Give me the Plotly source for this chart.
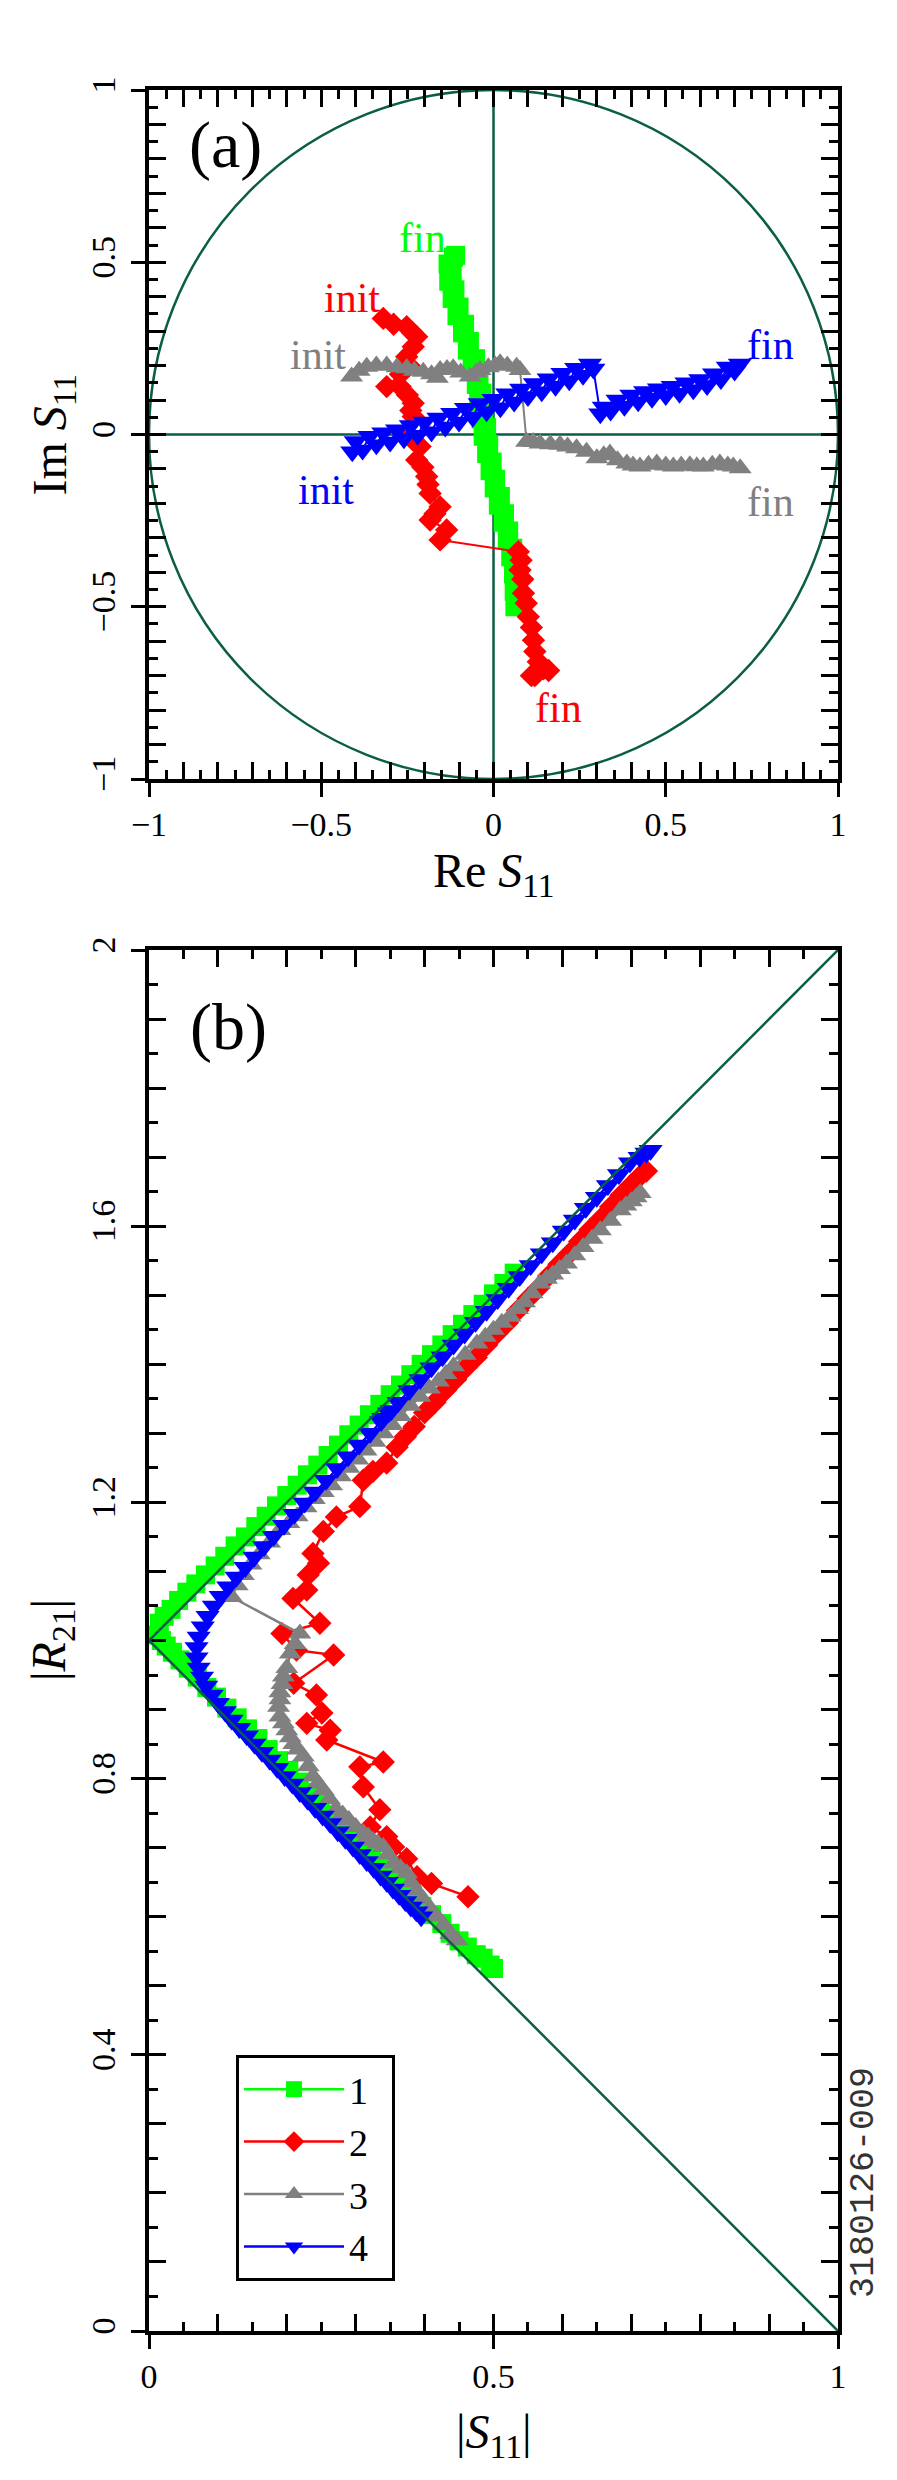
import plotly.graph_objects as go

SERIF = "Liberation Serif"
DARK_GREEN = "#0b5e46"

# ---- panel (a): Re S11 / Im S11 trajectories
re_1 = [0.062, 0.072, 0.060, 0.070, 0.058, 0.066, 0.050, 0.056, 0.040, 0.044, 0.028, 0.032,
        0.014, 0.020, 0.002, 0.006, -0.010, -0.004, -0.020, -0.014, -0.030, -0.020, -0.036,
        -0.028, -0.043, -0.034, -0.050, -0.042, -0.062, -0.052, -0.076, -0.070, -0.090,
        -0.084, -0.106, -0.100, -0.120, -0.112, -0.130, -0.120, -0.132, -0.116, -0.110]
im_1 = [-0.500, -0.480, -0.455, -0.430, -0.405, -0.380, -0.355, -0.330, -0.305, -0.280,
        -0.255, -0.230, -0.205, -0.180, -0.155, -0.130, -0.105, -0.080, -0.055, -0.030,
        -0.005, 0.020, 0.045, 0.070, 0.095, 0.120, 0.145, 0.170, 0.195, 0.220, 0.245, 0.270,
        0.295, 0.320, 0.345, 0.370, 0.395, 0.420, 0.445, 0.470, 0.495, 0.515, 0.520]

re_2 = [-0.320, -0.290, -0.252, -0.235, -0.223, -0.233, -0.252, -0.245, -0.270, -0.310,
        -0.271, -0.250, -0.233, -0.240, -0.233, -0.252, -0.235, -0.213, -0.223, -0.205,
        -0.194, -0.190, -0.184, -0.155, -0.170, -0.184, -0.136, -0.155,
        0.072, 0.080, 0.077, 0.085, 0.087, 0.095, 0.101, 0.110, 0.116, 0.120, 0.130, 0.145,
        0.160, 0.120, 0.110]
im_2 = [0.337, 0.320, 0.313, 0.295, 0.284, 0.255, 0.226, 0.200, 0.175, 0.139, 0.139, 0.115,
        0.091, 0.070, 0.052, 0.003, -0.015, -0.035, -0.074, -0.095, -0.122, -0.145, -0.171,
        -0.210, -0.230, -0.248, -0.277, -0.306,
        -0.340, -0.365, -0.393, -0.420, -0.461, -0.490, -0.529, -0.560, -0.597, -0.630,
        -0.660, -0.680, -0.685, -0.700, -0.700]

re_3 = [-0.412, -0.390, -0.368, -0.340, -0.310, -0.280, -0.252, -0.230, -0.204, -0.180,
        -0.163, -0.155, -0.135, -0.117, -0.095, -0.068, -0.050, -0.039, -0.015, 0.005, 0.019,
        0.040, 0.067, 0.077,
        0.096, 0.115, 0.135, 0.165, 0.193, 0.215, 0.241, 0.270, 0.300, 0.320, 0.338, 0.360,
        0.387, 0.405, 0.425, 0.450, 0.474, 0.500, 0.522, 0.545, 0.570, 0.590, 0.609, 0.635,
        0.657, 0.680, 0.696, 0.716]
im_3 = [0.168, 0.185, 0.197, 0.200, 0.200, 0.195, 0.192, 0.185, 0.182, 0.175, 0.165, 0.187,
        0.190, 0.192, 0.180, 0.168, 0.180, 0.187, 0.195, 0.200, 0.207, 0.200, 0.197, 0.187,
        -0.021, -0.022, -0.026, -0.028, -0.030, -0.035, -0.040, -0.050, -0.069, -0.060,
        -0.055, -0.075, -0.084, -0.090, -0.093, -0.088, -0.084, -0.090, -0.093, -0.090,
        -0.089, -0.092, -0.093, -0.088, -0.084, -0.090, -0.093, -0.098]

re_4 = [-0.410, -0.400, -0.380, -0.360, -0.340, -0.320, -0.300, -0.280, -0.260, -0.240,
        -0.220, -0.200, -0.180, -0.160, -0.140, -0.120, -0.100, -0.080, -0.060, -0.040,
        -0.020, 0.0, 0.020, 0.040, 0.060, 0.080, 0.100, 0.120, 0.140, 0.160, 0.180, 0.200,
        0.220, 0.240, 0.260, 0.280, 0.290,
        0.310, 0.320, 0.340, 0.360, 0.380, 0.400, 0.420, 0.440, 0.460, 0.480, 0.500, 0.520,
        0.540, 0.560, 0.580, 0.600, 0.620, 0.640, 0.660, 0.680, 0.700, 0.715]
im_4 = [-0.050, -0.020, -0.045, -0.005, -0.030, 0.005, -0.022, 0.014, -0.012, 0.026, -0.002,
        0.036, 0.008, 0.048, 0.022, 0.062, 0.036, 0.076, 0.050, 0.090, 0.066, 0.102, 0.078,
        0.118, 0.094, 0.132, 0.110, 0.148, 0.124, 0.162, 0.140, 0.178, 0.156, 0.192, 0.172,
        0.205, 0.190,
        0.060, 0.080, 0.068, 0.100, 0.082, 0.115, 0.095, 0.125, 0.105, 0.133, 0.113, 0.140,
        0.120, 0.150, 0.130, 0.160, 0.142, 0.176, 0.160, 0.196, 0.184, 0.205]

# ---- panel (b): |S11| vs |R21|
s_1 = [0.500, 0.495, 0.485, 0.475, 0.462, 0.450, 0.437, 0.425, 0.410, 0.396, 0.382, 0.368,
       0.353, 0.338, 0.323, 0.308, 0.293, 0.278, 0.263, 0.248, 0.233, 0.218, 0.203, 0.188,
       0.173, 0.158, 0.143, 0.128, 0.113, 0.098, 0.084, 0.070, 0.057, 0.045, 0.034, 0.025,
       0.018, 0.013,
       0.015, 0.022, 0.032, 0.043, 0.055, 0.068, 0.082, 0.096, 0.110, 0.125, 0.140, 0.155,
       0.170, 0.185, 0.200, 0.215, 0.230, 0.245, 0.260, 0.275, 0.290, 0.305, 0.320, 0.335,
       0.350, 0.365, 0.380, 0.395, 0.410, 0.425, 0.440, 0.455, 0.470, 0.485, 0.500, 0.515,
       0.530]
r_1 = [0.525, 0.530, 0.540, 0.545, 0.556, 0.565, 0.576, 0.590, 0.603, 0.615, 0.630, 0.645,
       0.660, 0.672, 0.688, 0.705, 0.718, 0.735, 0.748, 0.765, 0.780, 0.795, 0.812, 0.826,
       0.842, 0.858, 0.872, 0.888, 0.902, 0.918, 0.932, 0.947, 0.960, 0.972, 0.983, 0.992,
       1.000, 1.008,
       1.025, 1.035, 1.045, 1.058, 1.070, 1.082, 1.095, 1.108, 1.122, 1.137, 1.150, 1.165,
       1.180, 1.195, 1.210, 1.225, 1.240, 1.254, 1.268, 1.283, 1.298, 1.312, 1.327, 1.342,
       1.356, 1.370, 1.385, 1.400, 1.414, 1.428, 1.443, 1.458, 1.472, 1.487, 1.502, 1.517,
       1.532]

s_2 = [0.463, 0.410, 0.389, 0.374, 0.355, 0.345, 0.321, 0.335, 0.311, 0.306, 0.340, 0.258,
       0.263, 0.229, 0.251, 0.243, 0.210, 0.268, 0.214, 0.193, 0.248, 0.209, 0.229, 0.231,
       0.246, 0.238, 0.253, 0.272, 0.306, 0.311, 0.325, 0.345, 0.360, 0.372, 0.385, 0.400,
       0.415, 0.430, 0.445, 0.460, 0.475, 0.490, 0.505, 0.520, 0.535, 0.550, 0.565, 0.580,
       0.595, 0.610, 0.625, 0.640, 0.655, 0.670, 0.685, 0.700, 0.712, 0.722]
r_2 = [0.629, 0.648, 0.658, 0.684, 0.701, 0.716, 0.730, 0.755, 0.788, 0.817, 0.824, 0.856,
       0.870, 0.880, 0.895, 0.921, 0.938, 0.979, 0.986, 1.010, 1.025, 1.061, 1.073, 1.095,
       1.112, 1.126, 1.158, 1.179, 1.194, 1.232, 1.245, 1.257, 1.280, 1.295, 1.310, 1.330,
       1.345, 1.362, 1.378, 1.395, 1.410, 1.428, 1.445, 1.460, 1.478, 1.495, 1.510, 1.528,
       1.545, 1.560, 1.578, 1.595, 1.610, 1.628, 1.645, 1.660, 1.672, 1.680]

s_3 = [0.447, 0.438, 0.428, 0.418, 0.408, 0.398, 0.388, 0.380, 0.374, 0.365, 0.355, 0.347,
       0.340, 0.332, 0.325, 0.318, 0.311, 0.300, 0.290, 0.281, 0.272, 0.262, 0.253, 0.245,
       0.238, 0.231, 0.224, 0.216, 0.210, 0.205, 0.200, 0.195, 0.190, 0.188, 0.190, 0.190,
       0.193, 0.195, 0.200, 0.205, 0.212, 0.219,
       0.120, 0.128, 0.137, 0.148, 0.160, 0.175, 0.190, 0.203, 0.215, 0.228, 0.240, 0.253,
       0.265, 0.278, 0.290, 0.303, 0.315, 0.328, 0.340, 0.353, 0.365, 0.379, 0.393, 0.407,
       0.420, 0.431, 0.442, 0.459, 0.476, 0.488, 0.500, 0.512, 0.524, 0.535, 0.545, 0.556,
       0.567, 0.577, 0.586, 0.596, 0.606, 0.618, 0.630, 0.643, 0.655, 0.670, 0.684, 0.692,
       0.700, 0.707, 0.713]
r_3 = [0.566, 0.575, 0.588, 0.600, 0.612, 0.625, 0.638, 0.650, 0.663, 0.670, 0.677, 0.690,
       0.701, 0.706, 0.710, 0.716, 0.721, 0.730, 0.740, 0.748, 0.755, 0.770, 0.783, 0.793,
       0.803, 0.818, 0.832, 0.842, 0.850, 0.860, 0.870, 0.880, 0.890, 0.904, 0.915, 0.925,
       0.937, 0.948, 0.960, 0.981, 0.995, 1.010,
       1.063, 1.080, 1.095, 1.110, 1.125, 1.142, 1.160, 1.170, 1.180, 1.193, 1.205, 1.215,
       1.225, 1.238, 1.250, 1.262, 1.275, 1.288, 1.300, 1.312, 1.325, 1.340, 1.353, 1.365,
       1.375, 1.386, 1.397, 1.414, 1.430, 1.440, 1.450, 1.460, 1.469, 1.480, 1.490, 1.503,
       1.517, 1.524, 1.530, 1.538, 1.546, 1.558, 1.570, 1.582, 1.594, 1.608, 1.623, 1.630,
       1.636, 1.642, 1.648]

s_4 = [0.395, 0.388, 0.380, 0.372, 0.363, 0.354, 0.345, 0.336, 0.326, 0.316, 0.306, 0.296,
       0.285, 0.274, 0.263, 0.252, 0.241, 0.230, 0.219, 0.208, 0.197, 0.186, 0.175, 0.164,
       0.153, 0.142, 0.131, 0.120, 0.110, 0.100, 0.091, 0.083, 0.077, 0.072, 0.069,
       0.069, 0.072, 0.078, 0.085, 0.094, 0.104, 0.115, 0.127, 0.140, 0.153, 0.167, 0.181,
       0.196, 0.211, 0.226, 0.241, 0.257, 0.273, 0.289, 0.305, 0.321, 0.337, 0.352, 0.340,
       0.348, 0.362, 0.378, 0.394, 0.410, 0.426, 0.442, 0.458, 0.474, 0.490, 0.506, 0.522,
       0.538, 0.554, 0.570, 0.586, 0.602, 0.618, 0.634, 0.650, 0.666, 0.682, 0.698, 0.712,
       0.722, 0.728]
r_4 = [0.600, 0.607, 0.614, 0.622, 0.631, 0.640, 0.650, 0.659, 0.670, 0.680, 0.690, 0.701,
       0.712, 0.723, 0.735, 0.746, 0.757, 0.769, 0.780, 0.792, 0.803, 0.815, 0.827, 0.838,
       0.850, 0.862, 0.873, 0.885, 0.897, 0.909, 0.921, 0.934, 0.947, 0.960, 0.975,
       0.990, 1.005, 1.020, 1.035, 1.050, 1.064, 1.078, 1.092, 1.106, 1.121, 1.136, 1.151,
       1.167, 1.183, 1.199, 1.215, 1.232, 1.249, 1.266, 1.283, 1.300, 1.317, 1.333, 1.322,
       1.330, 1.345, 1.362, 1.378, 1.395, 1.411, 1.428, 1.444, 1.461, 1.477, 1.494, 1.510,
       1.527, 1.543, 1.560, 1.576, 1.593, 1.609, 1.626, 1.642, 1.659, 1.675, 1.692, 1.700,
       1.706, 1.710]

series_names = ["1", "2", "3", "4"]
series_colors = ["#00ff00", "#ff0000", "#808080", "#0000ff"]
series_symbols = ["square", "diamond", "triangle-up", "triangle-down"]
series_sizes = [19, 18, 20, 21]

panel_a = [(re_1, im_1), (re_2, im_2), (re_3, im_3), (re_4, im_4)]
panel_b = [(s_1, r_1), (s_2, r_2), (s_3, r_3), (s_4, r_4)]

# tick grids
ticks_a = [round(-1 + 0.1 * i, 1) for i in range(21)]
ticks_b_x = [round(0.1 * i, 1) for i in range(11)]
ticks_b_y = [round(0.1 * i, 1) for i in range(21)]

labels_a = [-1, -0.5, 0, 0.5, 1]
labels_a_text = ["\u22121", "\u22120.5", "0", "0.5", "1"]
labels_b_x = [0, 0.5, 1]
labels_b_x_text = ["0", "0.5", "1"]
labels_b_y = [0, 0.4, 0.8, 1.2, 1.6, 2]
labels_b_y_text = ["0", "0.4", "0.8", "1.2", "1.6", "2"]

W, H = 897, 2480
OFF = 8  # page body margin
PX_L, PX_R = 149 - OFF, 838 - OFF
A_TOP, A_BOT = 90 - OFF, 779 - OFF
B_TOP, B_BOT = 950 - OFF, 2331 - OFF


def px_x(px):
    return (px - OFF) / W


def px_y(py):
    return 1 - (py - OFF) / H


fig = go.Figure()

for i in range(4):
    style = dict(
        mode="lines+markers",
        line=dict(color=series_colors[i], width=2),
        marker=dict(symbol=series_symbols[i], size=series_sizes[i], color=series_colors[i],
                    line=dict(width=0)),
    )
    fig.add_trace(go.Scatter(x=panel_a[i][0], y=panel_a[i][1], xaxis="x", yaxis="y",
                             name=series_names[i], showlegend=False, **style))
for i in range(4):
    style = dict(
        mode="lines+markers",
        line=dict(color=series_colors[i], width=2.5),
        marker=dict(symbol=series_symbols[i], size=series_sizes[i], color=series_colors[i],
                    line=dict(width=0)),
    )
    # trailing white glyph widens the legend box like the original
    label = series_names[i] + "<span style='color:white'>0</span>"
    fig.add_trace(go.Scatter(x=panel_b[i][0], y=panel_b[i][1], xaxis="x2", yaxis="y2",
                             name=label, showlegend=True, **style))

# empty traces so the labelled outer tick axes get drawn
for xa, ya in [("x3", "y"), ("x", "y3"), ("x4", "y2"), ("x2", "y4")]:
    fig.add_trace(go.Scatter(x=[None], y=[None], xaxis=xa, yaxis=ya, showlegend=False,
                             hoverinfo="skip", mode="markers"))


def inner_axis(rng, vals, domain, anchor):
    return dict(
        range=rng, domain=domain, anchor=anchor, automargin=False,
        tickmode="array", tickvals=vals, showticklabels=False,
        ticks="inside", ticklen=17, tickwidth=3, tickcolor="black",
        minor=dict(dtick=0.05, ticks="inside", ticklen=9, tickwidth=2.5, tickcolor="black"),
        showline=True, linewidth=3.5, linecolor="black", mirror="ticks",
        showgrid=False, zeroline=False, fixedrange=True,
    )


def outer_axis(rng, over, anchor, side, vals, text, angle, standoff):
    return dict(
        range=rng, overlaying=over, anchor=anchor, side=side, automargin=False,
        tickmode="array", tickvals=vals, ticktext=text, tickangle=angle,
        ticks="outside", ticklen=17, tickwidth=3, tickcolor="black",
        tickfont=dict(family=SERIF, size=34, color="black"), ticklabelstandoff=standoff,
        showline=False, showgrid=False, zeroline=False, fixedrange=True,
    )


dom_x = [PX_L / W, PX_R / W]
dom_a = [1 - A_BOT / H, 1 - A_TOP / H]
dom_b = [1 - B_BOT / H, 1 - B_TOP / H]

fig.update_layout(
    width=W, height=H,
    margin=dict(l=0, r=0, t=0, b=0),
    paper_bgcolor="white", plot_bgcolor="white",
    font=dict(family=SERIF, color="black"),
    xaxis=inner_axis([-1, 1], ticks_a, dom_x, "y"),
    yaxis=inner_axis([-1, 1], ticks_a, dom_a, "x"),
    xaxis2=inner_axis([0, 1], ticks_b_x, dom_x, "y2"),
    yaxis2=inner_axis([0, 2], ticks_b_y, dom_b, "x2"),
    xaxis3=outer_axis([-1, 1], "x", "y", "bottom", labels_a, labels_a_text, 0, -2),
    yaxis3=outer_axis([-1, 1], "y", "x", "left", labels_a, labels_a_text, -90, 2),
    xaxis4=outer_axis([0, 1], "x2", "y2", "bottom", labels_b_x, labels_b_x_text, 0, -2),
    yaxis4=outer_axis([0, 2], "y2", "x2", "left", labels_b_y, labels_b_y_text, -90, 2),
    legend=dict(
        x=px_x(236), y=px_y(2055), xanchor="left", yanchor="top",
        font=dict(family=SERIF, size=38, color="black"),
        bordercolor="black", borderwidth=3, bgcolor="white",
        itemwidth=100, tracegroupgap=0,
    ),
    showlegend=True,
)

# reference curves: unit circle and axes in (a), |R21| = 1 +/- |S11| in (b)
fig.add_shape(type="circle", xref="x", yref="y", x0=-1, y0=-1, x1=1, y1=1,
              line=dict(color=DARK_GREEN, width=2.5), layer="below")
fig.add_shape(type="line", xref="x", yref="y", x0=-1, y0=0, x1=1, y1=0,
              line=dict(color=DARK_GREEN, width=2.5), layer="below")
fig.add_shape(type="line", xref="x", yref="y", x0=0, y0=-1, x1=0, y1=1,
              line=dict(color=DARK_GREEN, width=2.5), layer="below")
fig.add_shape(type="line", xref="x2", yref="y2", x0=0, y0=1, x1=1, y1=2,
              line=dict(color=DARK_GREEN, width=2.5), layer="above")
fig.add_shape(type="line", xref="x2", yref="y2", x0=0, y0=1, x1=1, y1=0,
              line=dict(color=DARK_GREEN, width=2.5), layer="above")

# init / fin labels in panel (a)
tags = [
    ("fin", -0.206, 0.570, "#00ff00"),
    ("init", -0.412, 0.395, "#ff0000"),
    ("fin", 0.190, -0.795, "#ff0000"),
    ("init", -0.510, 0.230, "#808080"),
    ("fin", 0.805, -0.195, "#808080"),
    ("init", -0.487, -0.160, "#0000ff"),
    ("fin", 0.803, 0.259, "#0000ff"),
]
for text, x, y, color in tags:
    fig.add_annotation(text=text, x=x, y=y, xref="x", yref="y", showarrow=False,
                       font=dict(family=SERIF, size=42, color=color))

# panel letters and axis titles
paper_text = [
    ("(a)", 225, 145, 66, 0),
    ("(b)", 228, 1027, 66, 0),
    ("Re <i>S</i><sub>11</sub>", 493.5, 874, 48, 0),
    ("Im <i>S</i><sub>11</sub>", 52, 434.5, 48, -90),
    ("|<i>S</i><sub>11</sub>|", 493.5, 2435, 48, 0),
    ("|<i>R</i><sub>21</sub>|", 52, 1640, 48, -90),
]
for text, px, py, size, angle in paper_text:
    fig.add_annotation(text=text, x=px_x(px), y=px_y(py), xref="paper", yref="paper",
                       showarrow=False, textangle=angle, xanchor="center", yanchor="middle",
                       font=dict(family=SERIF, size=size, color="black"))

fig.add_annotation(text="3180126-009", x=px_x(864), y=px_y(2183), xref="paper",
                   yref="paper", showarrow=False, textangle=-90,
                   xanchor="center", yanchor="middle",
                   font=dict(family="Liberation Mono", size=35, color="#333333"))

fig.write_html("out.html")
